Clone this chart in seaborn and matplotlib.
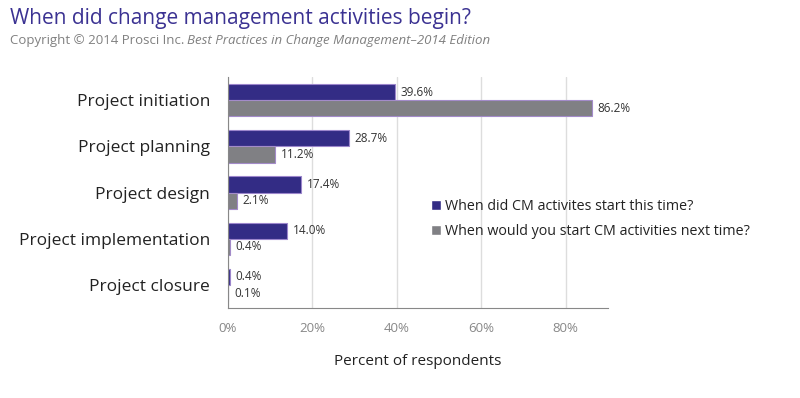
import numpy as np
import pandas as pd
import matplotlib
matplotlib.use('Agg')
import matplotlib.pyplot as plt
import seaborn as sns

fases = ['Project initiation', 'Project planning', 'Project design',
         'Project implementation', 'Project closure']
deze_keer = [39.6, 28.7, 17.4, 14.0, 0.4]
volgende_keer = [86.2, 11.2, 2.1, 0.4, 0.1]
reeksen = ['When did CM activites start this time?',
           'When would you start CM activities next time?']

df = pd.DataFrame({
    'fase': fases * 2,
    'waarde': deze_keer + volgende_keer,
    'reeks': [reeksen[0]] * len(fases) + [reeksen[1]] * len(fases),
})

sns.set_style('white')
plt.rcParams['font.family'] = ['Open Sans', 'DejaVu Sans']

paars = '#332C85'
grijs = '#808084'

fig = plt.figure(figsize=(8, 3.98), dpi=100)
ax = fig.add_axes([0.285, 0.226, 0.475, 0.58])

sns.barplot(data=df, y='fase', x='waarde', hue='reeks', orient='h',
            palette=[paars, grijs], width=0.7, saturation=1, ax=ax, legend=True)

# randen: paarse balken lichtpaars, grijze balken donkergrijs
for c, rand in zip(ax.containers, ['#9C86CC', '#A38BC9']):
    for p in c:
        p.set_edgecolor(rand)
        p.set_linewidth(0.8)

for c in ax.containers:
    ax.bar_label(c, labels=[f'{v:.1f}%' for v in c.datavalues], padding=4,
                 fontsize=8.5, color='#333333')

ax.set_xlim(0, 90)
ax.set_xticks([0, 20, 40, 60, 80])
ax.set_xticklabels([f'{t}%' for t in [0, 20, 40, 60, 80]], color='#888888', fontsize=9.5)
ax.xaxis.grid(True, color='#DDDDDD', linewidth=1)
ax.set_axisbelow(True)

ax.set_yticks(np.arange(len(fases)))
ax.set_yticklabels(fases, fontsize=12.5, color='#222222')
ax.set_ylim(len(fases) - 0.5, -0.5)
ax.set_yticks(np.arange(len(fases) + 1) - 0.5, minor=True)
ax.tick_params(axis='y', which='major', length=0, pad=13)
ax.tick_params(axis='y', which='minor', length=5, color='#888888', direction='out')
ax.tick_params(axis='x', length=4, color='#888888', direction='out', pad=6)

for s in ['top', 'right']:
    ax.spines[s].set_visible(False)
for s in ['left', 'bottom']:
    ax.spines[s].set_color('#888888')

ax.set_ylabel('')
ax.set_xlabel('Percent of respondents', fontsize=11, color='#222222', labelpad=14)

leg = ax.legend(loc='upper left', bbox_to_anchor=(0.5, 0.53), frameon=False,
                fontsize=10.3, handlelength=0.7, handleheight=0.7,
                handletextpad=0.3, labelspacing=0.75)
for t in leg.get_texts():
    t.set_color('#222222')

fig.text(0.012, 0.94, 'When did change management activities begin?',
         fontsize=15, color='#3B3292')
t1 = fig.text(0.012, 0.89, 'Copyright © 2014 Prosci Inc. ', fontsize=9.5, color='#808080')
fig.canvas.draw()
fig.text(0, 0, 'Best Practices in Change Management–2014 Edition',
         fontsize=9.5, color='#808080', style='italic',
         transform=matplotlib.transforms.offset_copy(
             fig.transFigure, fig=fig,
             x=t1.get_window_extent().x1 / fig.dpi, y=0.89 * 3.98, units='inches'))

fig.savefig('out.png', dpi=100)
